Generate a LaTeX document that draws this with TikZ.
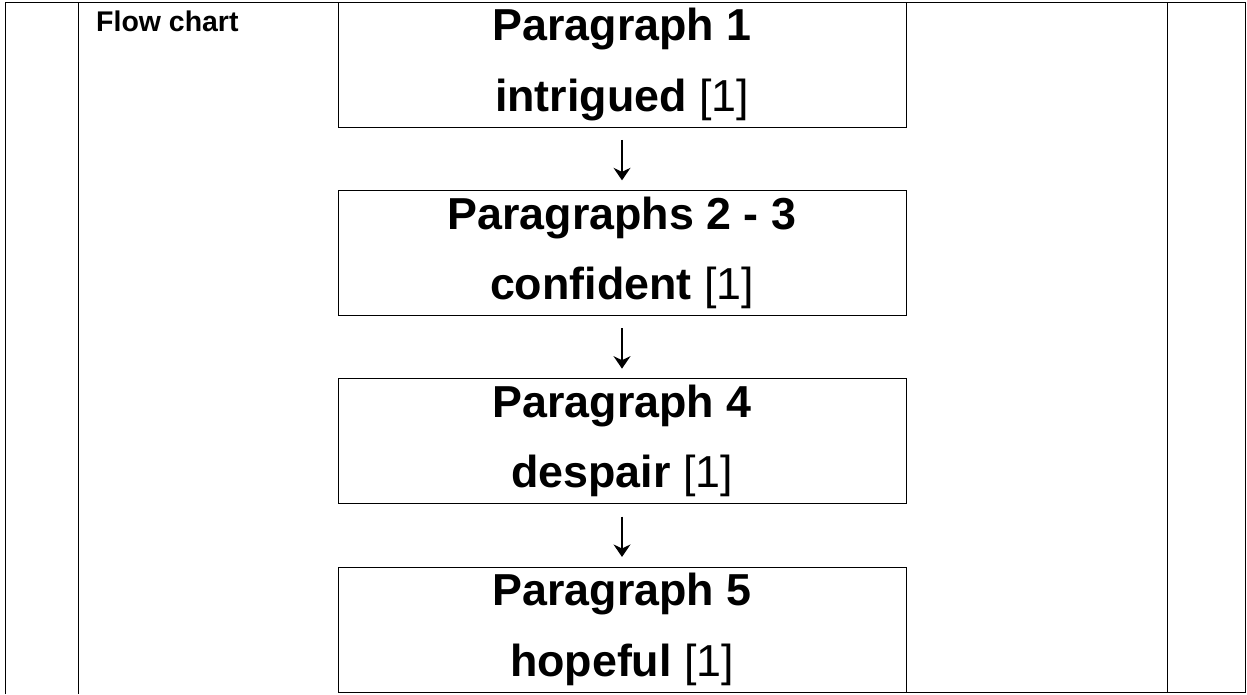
\documentclass[tikz,border=0pt]{standalone}
\usepackage{fontspec}
\setmainfont{Liberation Sans}
\usetikzlibrary{arrows.meta, positioning}
\tikzset{
    node distance = 1.267cm, line width = 1.1pt,
    parabox/.style = {rectangle, draw, minimum width = 11.36cm, minimum height = 2.5cm,
                      inner sep = 0pt, outer sep = 0pt, align = center,
                      font = \fontsize{25.5}{40}\selectfont},
    flowarrow/.style = {-{Stealth[length = 0.25cm, width = 0.34cm]}, line width = 0.8pt,
                        shorten <= 0.26cm, shorten >= 0.2cm}
    }

\begin{document}
\begin{tikzpicture}[x=0.02cm, y=-0.02cm]
    \useasboundingbox (0,0) rectangle (1247,694);
    % table frame
    \draw (5,694) -- (5,2) -- (1245,2) -- (1245,692) -- (906,692);
    \draw (78,2) -- (78,694);
    \draw (1167,2) -- (1167,692);
    \node (title) at (90,31) [anchor=base west, font=\fontsize{16.2}{19}\selectfont\bfseries] {Flow chart};

    \node (p1) at (622,2) [parabox, anchor=north] {\textbf{Paragraph 1}\\ \textbf{intrigued} [1]};
    \node (p23) [parabox, below=of p1] {\textbf{Paragraphs 2 - 3}\\ \textbf{confident} [1]};
    \node (p4) [parabox, below=of p23] {\textbf{Paragraph 4}\\ \textbf{despair} [1]};
    \node (p5) [parabox, below=of p4] {\textbf{Paragraph 5}\\ \textbf{hopeful} [1]};

    \draw[flowarrow] (p1) -- (p23);
    \draw[flowarrow] (p23) -- (p4);
    \draw[flowarrow] (p4) -- (p5);
\end{tikzpicture}
\end{document}
